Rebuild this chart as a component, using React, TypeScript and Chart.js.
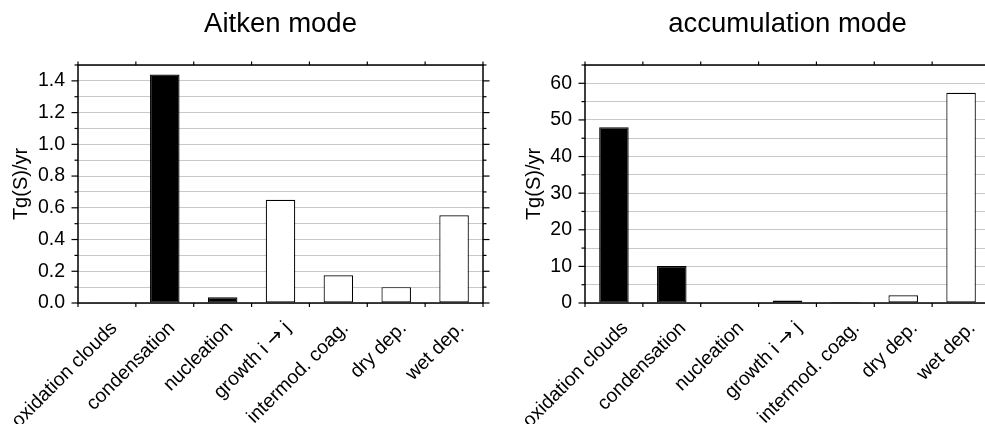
import React, { useEffect, useRef } from 'react';
import { Chart, registerables } from 'chart.js';

Chart.register(...registerables);

// ---- data ----
const categories = [
  'oxidation clouds',
  'condensation',
  'nucleation',
  'growth i \u2192 j',
  'intermod. coag.',
  'dry dep.',
  'wet dep.',
];

const aitkenValues = [0.004, 1.44, 0.036, 0.65, 0.175, 0.1, 0.553];
const aitkenIsSource = [true, true, true, false, false, false, false];
const aitkenTickLabels = ['0.0', '0.2', '0.4', '0.6', '0.8', '1.0', '1.2', '1.4'];

const accumValues = [48.0, 10.1, 0.15, 0.7, 0.25, 2.1, 57.4];
const accumIsSource = [true, true, true, true, true, false, false];
const accumTickLabels = ['0', '10', '20', '30', '40', '50', '60'];

const FONT = '"Liberation Sans", Arial, Helvetica, sans-serif';
const ARROW_FONT = '"DejaVu Sans", sans-serif';

const framePlugin = {
  id: 'framePlugin',
  afterDatasetsDraw(chart: any, _args: any, opts: any) {
    const { ctx, chartArea: a } = chart;
    const xs = chart.scales.x;
    const ys = chart.scales.y;
    ctx.save();
    const line = (x1: number, y1: number, x2: number, y2: number) => {
      ctx.beginPath();
      ctx.moveTo(x1, y1);
      ctx.lineTo(x2, y2);
      ctx.stroke();
    };
    ctx.strokeStyle = '#000';
    ctx.lineWidth = 1.5;
    ctx.strokeRect(a.left, a.top, a.right - a.left, a.bottom - a.top);

    ctx.lineWidth = 1.2;
    ys.ticks.forEach((t: any) => {
      const py = ys.getPixelForValue(t.value);
      const len = t.label ? 6.5 : 3.5;
      line(a.left - len, py, a.left, py);
      line(a.right, py, a.right + len, py);
    });
    const n = chart.data.labels.length;
    for (let i = 0; i <= n; i++) {
      const px = xs.getPixelForValue(i - 0.5);
      line(px, a.bottom, px, a.bottom + 4);
      line(px, a.top - 3.5, px, a.top);
    }

    // x category labels, rotated (arrow drawn with a wider font)
    ctx.fillStyle = '#000';
    ctx.textAlign = 'left';
    ctx.textBaseline = 'alphabetic';
    const fontMain = `19.5px ${FONT}`;
    const fontArrow = `19.5px ${ARROW_FONT}`;
    chart.data.labels.forEach((lab: string, i: number) => {
      const cx = xs.getPixelForValue(i);
      const parts = lab.split(/(\u2192)/).filter((p) => p.length > 0);
      const widths = parts.map((p) => {
        ctx.font = p === '\u2192' ? fontArrow : fontMain;
        return ctx.measureText(p).width;
      });
      const total = widths.reduce((s, w) => s + w, 0);
      ctx.save();
      ctx.translate(cx + opts.labelDx, a.bottom + 26);
      ctx.rotate(-Math.PI / 4);
      let xpos = -total;
      parts.forEach((p, k) => {
        ctx.font = p === '\u2192' ? fontArrow : fontMain;
        ctx.fillText(p, xpos, 0);
        xpos += widths[k];
      });
      ctx.restore();
    });

    // title
    ctx.font = `27.5px ${FONT}`;
    ctx.textAlign = 'center';
    ctx.fillText(opts.title, (a.left + a.right) / 2, 32);

    // y axis title
    ctx.save();
    ctx.translate(opts.yTitleX, (a.top + a.bottom) / 2);
    ctx.rotate(-Math.PI / 2);
    ctx.font = `20px ${FONT}`;
    ctx.textAlign = 'center';
    ctx.textBaseline = 'middle';
    ctx.fillText('Tg(S)/yr', 0, 0);
    ctx.restore();

    ctx.restore();
  },
};

function makeConfig(
  title: string,
  values: number[],
  isSource: boolean[],
  tickLabels: string[],
  max: number,
  step: number,
  decimals: number,
  yWidth: number,
  padRight: number,
  yTitleX: number,
  labelDx: number
): any {
  return {
    type: 'bar',
    data: {
      labels: categories,
      datasets: [
        {
          data: values,
          backgroundColor: isSource.map((s) => (s ? '#000' : '#fff')),
          borderColor: '#000',
          borderWidth: 1.2,
          borderSkipped: false,
          barPercentage: 0.51,
          categoryPercentage: 1,
        },
      ],
    },
    options: {
      responsive: false,
      animation: false,
      events: [],
      layout: { padding: { top: 65, left: 0, right: padRight, bottom: 0 } },
      plugins: {
        legend: { display: false },
        tooltip: { enabled: false },
        title: { display: false },
        framePlugin: { title, yTitleX, labelDx },
      },
      scales: {
        x: {
          type: 'category',
          grid: { display: false },
          border: { display: false },
          ticks: { display: false },
          afterFit(scale: any) {
            scale.height = 121;
            scale.paddingLeft = 0;
            scale.paddingRight = 0;
          },
        },
        y: {
          min: 0,
          max,
          grid: { color: '#c8c8c8', lineWidth: 1, drawTicks: false },
          border: { display: false },
          ticks: {
            stepSize: step,
            autoSkip: false,
            padding: 13,
            color: '#000',
            font: { family: FONT, size: 19.5 },
            callback: (v: number) => {
              const s = Number(v).toFixed(decimals);
              return tickLabels.includes(s) ? s : '';
            },
          },
          afterFit(scale: any) {
            scale.width = yWidth;
            scale.paddingTop = 0;
            scale.paddingBottom = 0;
          },
        },
      },
    },
    plugins: [framePlugin],
  };
}

function BarPanel(props: { config: any; left: number }) {
  const ref = useRef<HTMLCanvasElement | null>(null);
  useEffect(() => {
    if (!ref.current) return;
    const chart = new Chart(ref.current, props.config);
    return () => chart.destroy();
  }, []);
  return (
    <canvas
      ref={ref}
      width={500}
      height={424}
      style={{ position: 'absolute', left: props.left, top: 0, width: 500, height: 424 }}
    />
  );
}

export default function App() {
  const leftCfg = makeConfig('Aitken mode', aitkenValues, aitkenIsSource, aitkenTickLabels, 1.5, 0.1, 1, 78, 17, 21, 11);
  const rightCfg = makeConfig('accumulation mode', accumValues, accumIsSource, accumTickLabels, 65, 5, 0, 85, 10, 34, 15);
  return (
    <div
      style={{
        position: 'fixed',
        left: 0,
        top: 0,
        width: 985,
        height: 424,
        overflow: 'hidden',
        background: '#fff',
      }}
    >
      <BarPanel config={leftCfg} left={0} />
      <BarPanel config={rightCfg} left={500} />
    </div>
  );
}
